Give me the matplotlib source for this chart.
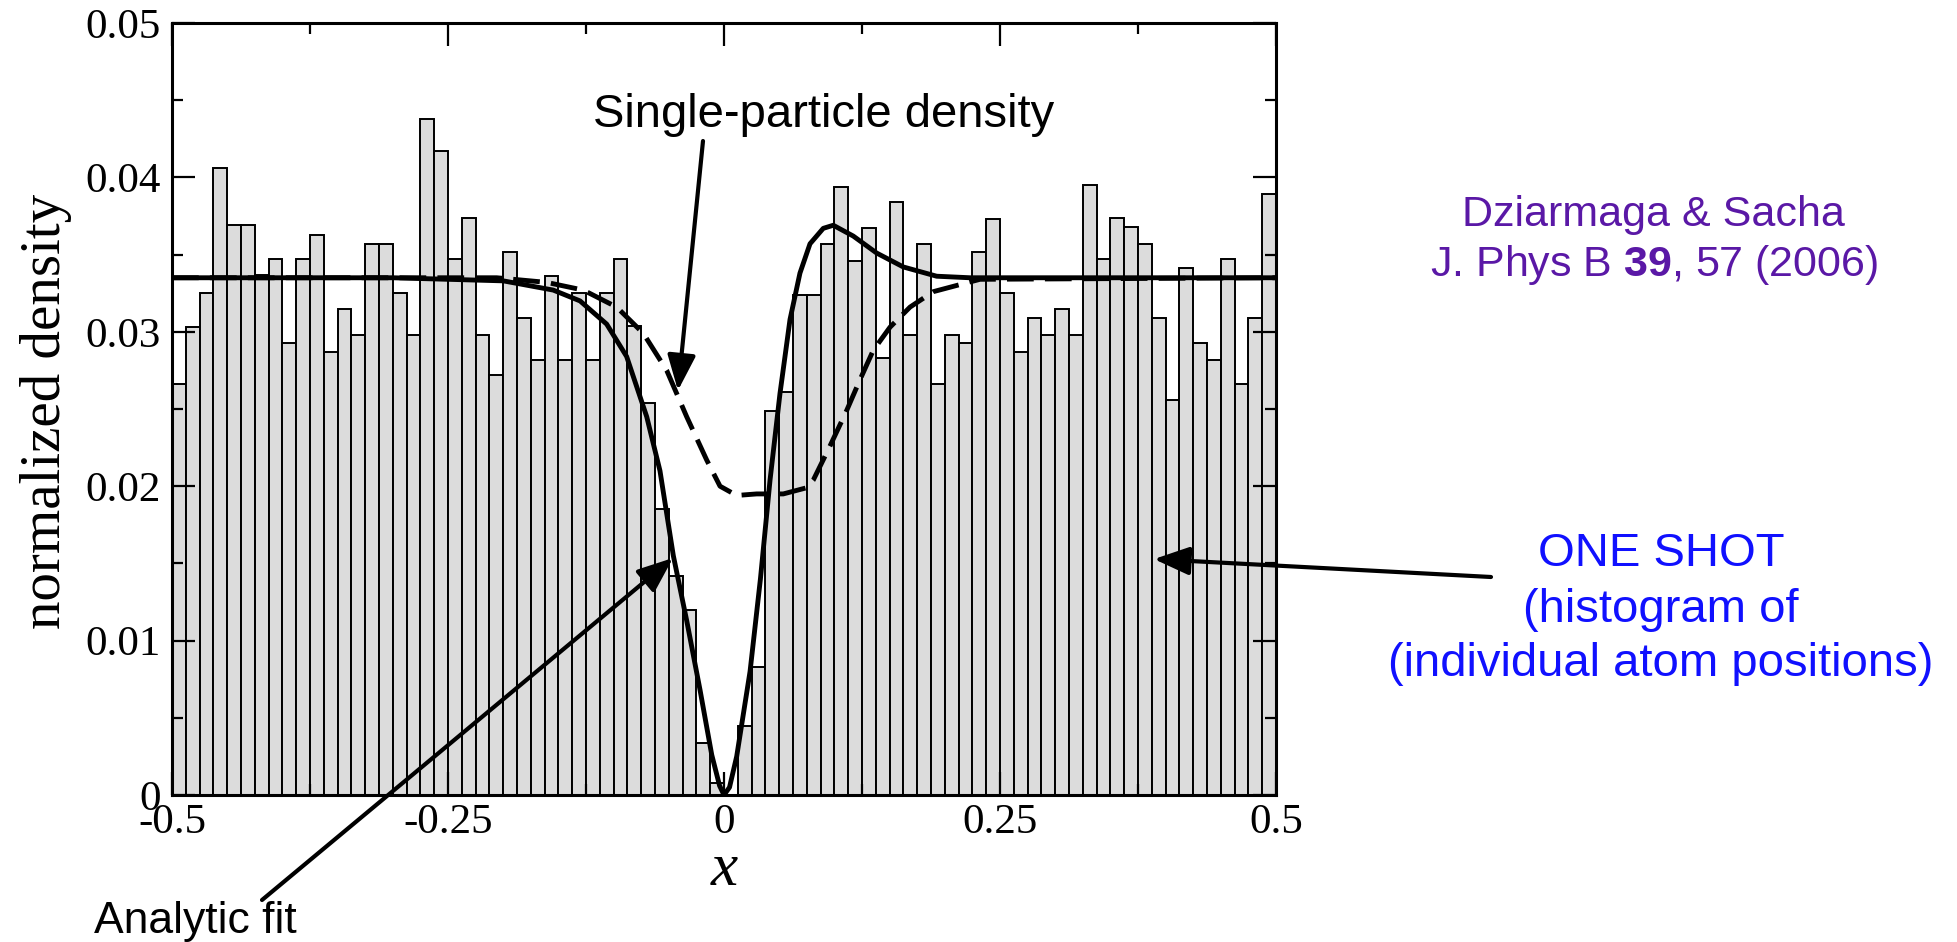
import numpy as np
import matplotlib.pyplot as plt

# histogram of individual atom positions (one shot), 80 bins on [-0.5, 0.5]
BIN_EDGES = np.linspace(-0.5, 0.5, 81)
COUNTS = [0.0266, 0.0303, 0.0325, 0.0406, 0.0369, 0.0369, 0.0337, 0.0347, 0.0293, 0.0347,
          0.0363, 0.0287, 0.0315, 0.0298, 0.0357, 0.0357, 0.0325, 0.0298, 0.0438, 0.0417,
          0.0347, 0.0374, 0.0298, 0.0272, 0.0352, 0.0309, 0.0282, 0.0336, 0.0282, 0.0325,
          0.0282, 0.0325, 0.0347, 0.0304, 0.0254, 0.0185, 0.0142, 0.0120, 0.0034, 0.0008,
          0.0000, 0.0045, 0.0083, 0.0249, 0.0261, 0.0324, 0.0324, 0.0357, 0.0394, 0.0346,
          0.0367, 0.0283, 0.0384, 0.0298, 0.0357, 0.0266, 0.0298, 0.0293, 0.0352, 0.0373,
          0.0325, 0.0287, 0.0309, 0.0298, 0.0315, 0.0298, 0.0395, 0.0347, 0.0374, 0.0368,
          0.0357, 0.0309, 0.0256, 0.0341, 0.0293, 0.0282, 0.0347, 0.0266, 0.0309, 0.0389]

# analytic fit (solid)
FIT_X = [-0.5, -0.3, -0.2, -0.1848, -0.1546, -0.1304, -0.1063, -0.0882, -0.0700, -0.0580,
         -0.0459, -0.0338, -0.0217, -0.0111, -0.004, 0.0, 0.005, 0.0115, 0.0236, 0.033,
         0.0417, 0.0507, 0.0598, 0.0688, 0.0779, 0.0899, 0.0990, 0.1171, 0.1383, 0.1624,
         0.1926, 0.2228, 0.3, 0.5]
FIT_Y = [0.0335, 0.0335, 0.0333, 0.0331, 0.0327, 0.0320, 0.0305, 0.0284, 0.0245, 0.0210,
         0.0155, 0.0113, 0.0068, 0.0026, 0.0006, 0.0, 0.0005, 0.0025, 0.0080, 0.0140,
         0.0204, 0.0260, 0.0308, 0.0338, 0.0357, 0.0367, 0.0369, 0.0362, 0.0351, 0.0342,
         0.0336, 0.0335, 0.0335, 0.0335]

# single-particle density (dashed)
SPD_X = [-0.5, -0.2059, -0.1606, -0.1274, -0.0972, -0.0731, -0.0519, -0.0338, -0.0157, -0.0036,
         0.0115, 0.0296, 0.0537, 0.0749, 0.0809, 0.0960, 0.1111, 0.1232, 0.1352, 0.1504,
         0.1685, 0.1896, 0.2107, 0.2319, 0.5]
SPD_Y = [0.0335, 0.0335, 0.0332, 0.0327, 0.0316, 0.0299, 0.0275, 0.0245, 0.0217, 0.0200,
         0.0194, 0.0195, 0.0195, 0.0199, 0.0204, 0.0226, 0.0249, 0.0269, 0.0288, 0.0303,
         0.0316, 0.0326, 0.0330, 0.0334, 0.0335]

X_TICKS = [-0.5, -0.25, 0, 0.25, 0.5]
X_TICK_LABELS = ["-0.5", "-0.25", "0", "0.25", "0.5"]
Y_TICKS = [0, 0.01, 0.02, 0.03, 0.04, 0.05]
Y_TICK_LABELS = ["0", "0.01", "0.02", "0.03", "0.04", "0.05"]

W, H = 1957, 942
SERIF = "Liberation Serif"
SANS = "Liberation Sans"
PURPLE = "#5a18a6"


def fx(px):
    return px / W


def fy(py):
    return 1 - py / H


def main():
    plt.rcParams["mathtext.fontset"] = "custom"
    plt.rcParams["mathtext.rm"] = SANS
    plt.rcParams["mathtext.bf"] = SANS + ":bold"

    fig = plt.figure(figsize=(W / 100, H / 100), dpi=100, facecolor="w")
    ax = fig.add_axes([fx(172), fy(795), fx(1104), 772 / H])

    ax.bar(BIN_EDGES[:-1], COUNTS, width=np.diff(BIN_EDGES), align="edge",
           color="#dcdcdc", edgecolor="black", linewidth=1.4, zorder=1)
    ax.plot(SPD_X, SPD_Y, color="black", lw=3.5, linestyle=(0, (5.5, 2.3)), zorder=2)
    ax.plot(FIT_X, FIT_Y, color="black", lw=3.5, zorder=3)

    ax.set_xlim(-0.5, 0.5)
    ax.set_ylim(0, 0.05)
    ax.set_xticks(X_TICKS)
    ax.set_xticklabels(X_TICK_LABELS, family=SERIF, fontsize=31)
    ax.set_yticks(Y_TICKS)
    ax.set_yticklabels(Y_TICK_LABELS, family=SERIF, fontsize=31)
    ax.set_xticks([-0.375, -0.125, 0.125, 0.375], minor=True)
    ax.set_yticks(np.arange(0.005, 0.05, 0.01), minor=True)
    ax.tick_params(which="both", direction="in", top=True, right=True, width=1.6)
    ax.tick_params(which="major", length=16.5)
    ax.tick_params(which="minor", length=8)
    ax.tick_params(axis="y", pad=8)
    ax.tick_params(axis="x", pad=6)
    for sp in ax.spines.values():
        sp.set_linewidth(2.2)

    ax.set_ylabel("normalized density", family=SERIF, fontsize=41, va="center")
    ax.yaxis.set_label_coords(-0.114, 0.497)
    ax.set_xlabel("x", family=SERIF, style="italic", fontsize=44, va="center")
    ax.xaxis.set_label_coords(0.5, -0.097)

    arrow = dict(arrowstyle="-|>,head_length=0.9,head_width=0.36", lw=3, color="black",
                 mutation_scale=24, shrinkA=0, shrinkB=0)
    ax.annotate("", xy=(-0.0417, 0.0262), xycoords="data",
                xytext=(fx(703), fy(141)), textcoords="figure fraction", arrowprops=arrow)
    ax.annotate("", xy=(-0.0462, 0.01535), xycoords="data",
                xytext=(fx(262), fy(900)), textcoords="figure fraction", arrowprops=arrow)
    ax.annotate("", xy=(0.3895, 0.01528), xycoords="data",
                xytext=(fx(1491), fy(577)), textcoords="figure fraction", arrowprops=arrow)

    fig.text(fx(824), fy(127), "Single-particle density", family=SANS, fontsize=34,
             ha="center", va="baseline")
    fig.text(fx(94), fy(933), "Analytic fit", family=SANS, fontsize=32,
             ha="left", va="baseline")

    fig.text(fx(1653), fy(226), "Dziarmaga & Sacha", family=SANS, fontsize=31,
             color=PURPLE, ha="center", va="baseline")
    fig.text(fx(1654), fy(276), r"J. Phys B $\mathbf{39}$, 57 (2006)", family=SANS,
             fontsize=31, color=PURPLE, ha="center", va="baseline")

    for text, py in [("ONE SHOT", 566), ("(histogram of", 622),
                     ("(individual atom positions)", 676)]:
        fig.text(fx(1661), fy(py), text, family=SANS, fontsize=34, color="#1010ff",
                 ha="center", va="baseline")

    plt.savefig("out.png", dpi=100)


if __name__ == "__main__":
    main()
